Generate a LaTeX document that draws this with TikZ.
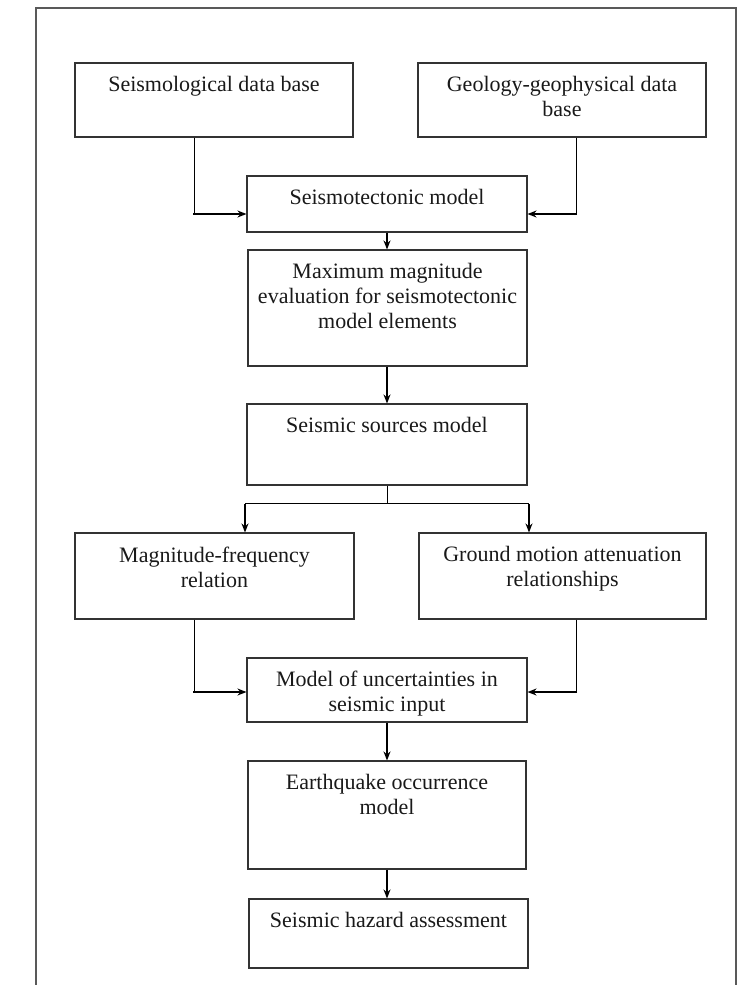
\documentclass[tikz,border=0pt]{standalone}
\usepackage{fontspec}
\setmainfont{Liberation Serif}
\usetikzlibrary{arrows.meta}
\begin{document}
\begin{tikzpicture}[x=1pt,y=-1pt,
  boxst/.style={draw=black!80,line width=1.1pt,rectangle,inner sep=0pt},
  lbl/.style={anchor=north,inner sep=0pt,align=center,text=black!90,font=\fontsize{22}{25}\selectfont},
  thinln/.style={line width=1pt},
  arr/.style={line width=2pt,-{Stealth[length=9pt,width=7pt]}},
  framest/.style={draw=black!65,line width=1.5pt}]
\useasboundingbox (0,0) rectangle (741,985);

% outer frame
\coordinate (fbl) at (36,985);
\coordinate (ftl) at (36,8);
\coordinate (ftr) at (736,8);
\coordinate (fbr) at (736,985);
\draw[framest] (fbl) -- (ftl) -- (ftr) -- (fbr);

% boxes
\node[boxst,minimum width=278pt,minimum height=74pt] (sdb) at (214,100) {};
\node[boxst,minimum width=288pt,minimum height=74pt] (gdb) at (562,100) {};
\node[boxst,minimum width=280pt,minimum height=56pt] (stm) at (387,204) {};
\node[boxst,minimum width=279pt,minimum height=116pt] (mme) at (387.5,308) {};
\node[boxst,minimum width=280pt,minimum height=81pt] (ssm) at (387,444.5) {};
\node[boxst,minimum width=279pt,minimum height=86pt] (mfr) at (214.5,576) {};
\node[boxst,minimum width=287pt,minimum height=86pt] (gma) at (562.5,576) {};
\node[boxst,minimum width=280pt,minimum height=64pt] (unc) at (387,690) {};
\node[boxst,minimum width=278pt,minimum height=108pt] (eom) at (387,815) {};
\node[boxst,minimum width=279pt,minimum height=69pt] (sha) at (388.5,933.5) {};

% labels
\node[lbl] (sdbt) at ([yshift=-14pt]sdb.north) {Seismological data base};
\node[lbl] (gdbt) at ([yshift=-14pt]gdb.north) {Geology-geophysical data\\base};
\node[lbl] (stmt) at ([yshift=-14pt]stm.north) {Seismotectonic model};
\node[lbl] (mmet) at ([yshift=-14pt]mme.north) {Maximum magnitude\\evaluation for seismotectonic\\model elements};
\node[lbl] (ssmt) at ([yshift=-14pt]ssm.north) {Seismic sources model};
\node[lbl] (mfrt) at ([yshift=-14pt]mfr.north) {Magnitude-frequency\\relation};
\node[lbl] (gmat) at ([yshift=-14pt]gma.north) {Ground motion attenuation\\relationships};
\node[lbl] (unct) at ([yshift=-13pt]unc.north) {Model of uncertainties in\\seismic input};
\node[lbl] (eomt) at ([yshift=-14pt]eom.north) {Earthquake occurrence\\model};
\node[lbl] (shat) at ([yshift=-14pt]sha.north) {Seismic hazard assessment};

% connectors into seismotectonic model
\coordinate (c1) at (194,214);
\coordinate (c2) at (576,214);
\draw[thinln] (sdb.south -| c1) -- (c1);
\draw[arr] ([xshift=-1pt]c1) -- (c1 -| stm.west);
\draw[thinln] (gdb.south -| c2) -- (c2);
\draw[arr] ([xshift=1pt]c2) -- (c2 -| stm.east);

% central chain
\draw[arr] (stm.south) -- (stm.south |- mme.north);
\draw[arr] (mme.south -| stm.south) -- (stm.south |- ssm.north);

% branch
\coordinate (b0) at (387,503);
\coordinate (bl) at (245,503);
\coordinate (br) at (529,503);
\draw[thinln] (ssm.south -| b0) -- (b0);
\draw[thinln] (bl) -- (br);
\draw[arr] ([yshift=-1pt]bl) -- (bl |- mfr.north);
\draw[arr] ([yshift=-1pt]br) -- (br |- gma.north);

% connectors into uncertainties model
\coordinate (c3) at (194,692);
\coordinate (c4) at (576,692);
\draw[thinln] (mfr.south -| c3) -- (c3);
\draw[arr] ([xshift=-1pt]c3) -- (c3 -| unc.west);
\draw[thinln] (gma.south -| c4) -- (c4);
\draw[arr] ([xshift=1pt]c4) -- (c4 -| unc.east);

% lower chain
\draw[arr] (unc.south -| b0) -- (b0 |- eom.north);
\draw[arr] (eom.south -| b0) -- (b0 |- sha.north);
\end{tikzpicture}
\end{document}
